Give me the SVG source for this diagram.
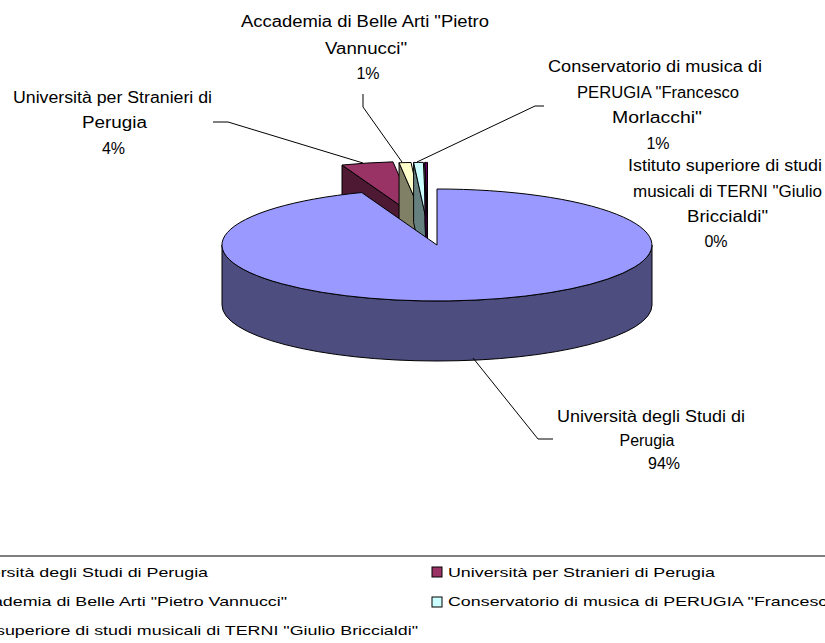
<svg xmlns="http://www.w3.org/2000/svg" width="825" height="643" viewBox="0 0 825 643">
<style>
  .lbl { font-family: "Liberation Sans", Arial, sans-serif; font-size: 16px; fill: #000; text-anchor: middle; }
  .leg { font-family: "Liberation Sans", Arial, sans-serif; font-size: 13px; fill: #000; }
  .edge { stroke: #000; stroke-width: 1; stroke-linejoin: round; }
  .conn { fill: none; stroke: #000; stroke-width: 1; }
</style>
<rect width="825" height="643" fill="#fff"/>

<!-- small slices (behind) -->
<g id="slice-stranieri">
  <path class="edge" fill="#4D1933" d="M417.3,217.5 L342.01,165.04 L342.01,225.04 L417.3,277.5 Z"/>
  <path class="edge" fill="#993366" d="M417.3,217.5 L342.01,165.04 A215,56 0 0 1 392.96,161.86 Z"/>
</g>
<g id="slice-accademia">
  <path class="edge" fill="#808066" d="M423.4,218.4 L399.06,162.76 L399.06,222.76 L423.4,278.4 Z"/>
  <path class="edge" fill="#FFFFCC" d="M423.4,218.4 L399.06,162.76 A215,56 0 0 1 411.02,162.49 Z"/>
</g>
<g id="slice-conservatorio">
  <path class="edge" fill="#668080" d="M426,218.4 L413.62,162.49 L413.62,222.49 L426,278.4 Z"/>
  <path class="edge" fill="#CCFFFF" d="M426,218.4 L413.62,162.49 A215,56 0 0 1 423.37,162.4 Z"/>
</g>
<g id="slice-istituto">
  <path class="edge" fill="#330033" d="M427.5,218.4 L424.87,162.4 L424.87,222.4 L427.5,278.4 Z"/>
  <path class="edge" fill="#660066" d="M427.5,218.4 L424.87,162.4 A215,56 0 0 1 427.5,162.4 Z"/>
</g>

<!-- big slice -->
<g id="slice-perugia">
  <path class="edge" fill="#4D4D80" d="M652,245 A215,56 0 0 1 222,245 L222,305 A215,56 0 0 0 652,305 Z"/>
  <path class="edge" fill="#9999FF" d="M437,245 L437,189 A215,56 0 1 1 361.71,192.54 Z"/>
</g>

<!-- connectors -->
<g id="connectors">
  <polyline class="conn" points="213,122 228,122 363,163"/>
  <polyline class="conn" points="363,94 363,107 402,162"/>
  <polyline class="conn" points="544,106 535,106 417,162"/>
  <polyline class="conn" points="473,358 538,439 553,439"/>
</g>

<!-- labels -->
<g id="label-accademia">
  <text class="lbl" x="365" y="27" textLength="248" lengthAdjust="spacingAndGlyphs">Accademia di Belle Arti "Pietro</text>
  <text class="lbl" x="366" y="54" textLength="82" lengthAdjust="spacingAndGlyphs">Vannucci"</text>
  <text class="lbl" x="368" y="79">1%</text>
</g>
<g id="label-stranieri">
  <text class="lbl" x="112.5" y="103" textLength="199" lengthAdjust="spacingAndGlyphs">Università per Stranieri di</text>
  <text class="lbl" x="114.5" y="128" textLength="65" lengthAdjust="spacingAndGlyphs">Perugia</text>
  <text class="lbl" x="113.5" y="154">4%</text>
</g>
<g id="label-conservatorio">
  <text class="lbl" x="655" y="72" textLength="214" lengthAdjust="spacingAndGlyphs">Conservatorio di musica di</text>
  <text class="lbl" x="658" y="97.5" textLength="162" lengthAdjust="spacingAndGlyphs">PERUGIA "Francesco</text>
  <text class="lbl" x="657" y="123" textLength="90" lengthAdjust="spacingAndGlyphs">Morlacchi"</text>
  <text class="lbl" x="658" y="148.5">1%</text>
</g>
<g id="label-istituto">
  <text class="lbl" x="725" y="171" textLength="194" lengthAdjust="spacingAndGlyphs">Istituto superiore di studi</text>
  <text class="lbl" x="727.5" y="197" textLength="189" lengthAdjust="spacingAndGlyphs">musicali di TERNI "Giulio</text>
  <text class="lbl" x="727.5" y="222" textLength="81" lengthAdjust="spacingAndGlyphs">Briccialdi"</text>
  <text class="lbl" x="716" y="247">0%</text>
</g>
<g id="label-perugia">
  <text class="lbl" x="651" y="422" textLength="188" lengthAdjust="spacingAndGlyphs">Università degli Studi di</text>
  <text class="lbl" x="647" y="446" textLength="55" lengthAdjust="spacingAndGlyphs">Perugia</text>
  <text class="lbl" x="664" y="469">94%</text>
</g>

<!-- legend -->
<g id="legend">
  <line x1="0" y1="556" x2="825" y2="556" stroke="#000" stroke-width="1"/>
  <rect x="432" y="567" width="10" height="10" fill="#993366" stroke="#000" stroke-width="1"/>
  <rect x="432" y="597" width="10" height="10" fill="#CCFFFF" stroke="#000" stroke-width="1"/>
  <g transform="scale(1.374,1)">
    <text class="leg" x="151.4" y="577" text-anchor="end">Università degli Studi di Perugia</text>
    <text class="leg" x="208.9" y="606" text-anchor="end">Accademia di Belle Arti "Pietro Vannucci"</text>
    <text class="leg" x="304.2" y="635" text-anchor="end">Istituto superiore di studi musicali di TERNI "Giulio Briccialdi"</text>
    <text class="leg" x="326.05" y="577">Università per Stranieri di Perugia</text>
    <text class="leg" x="326.05" y="606">Conservatorio di musica di PERUGIA "Francesco Morlacchi"</text>
  </g>
</g>
</svg>
